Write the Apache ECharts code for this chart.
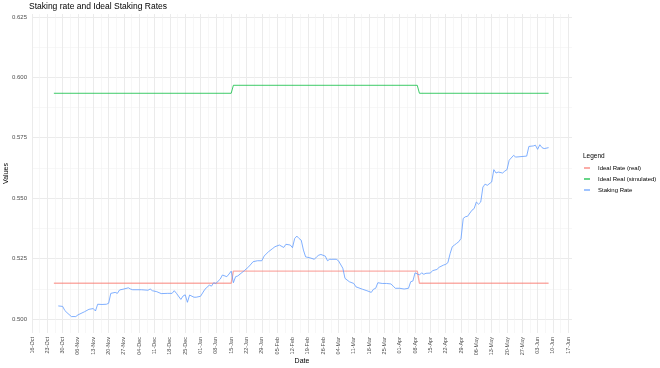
<!DOCTYPE html>
<html><head><meta charset="utf-8">
<script src="https://cdn.jsdelivr.net/npm/echarts@6/dist/echarts.min.js"></script>
<style>html,body{margin:0;padding:0;background:#fff}#c{width:660px;height:368px}</style>
</head><body><div id="c"></div>
<script>
// ---- data ----
const stakingDates = ['2023-10-28','2023-10-30','2023-10-31','2023-11-01','2023-11-03','2023-11-05','2023-11-06','2023-11-09','2023-11-11','2023-11-13','2023-11-14','2023-11-15','2023-11-17','2023-11-19','2023-11-20','2023-11-21','2023-11-23','2023-11-24','2023-11-25','2023-11-27','2023-11-29','2023-11-30','2023-12-01','2023-12-05','2023-12-08','2023-12-09','2023-12-10','2023-12-12','2023-12-14','2023-12-17','2023-12-19','2023-12-20','2023-12-21','2023-12-23','2023-12-24','2023-12-25','2023-12-26','2023-12-27','2023-12-29','2023-12-30','2024-01-01','2024-01-03','2024-01-05','2024-01-06','2024-01-07','2024-01-08','2024-01-10','2024-01-11','2024-01-13','2024-01-14','2024-01-15','2024-01-16','2024-01-17','2024-01-18','2024-01-21','2024-01-23','2024-01-25','2024-01-27','2024-01-29','2024-01-30','2024-02-01','2024-02-03','2024-02-04','2024-02-06','2024-02-08','2024-02-09','2024-02-11','2024-02-12','2024-02-13','2024-02-14','2024-02-15','2024-02-16','2024-02-17','2024-02-18','2024-02-20','2024-02-22','2024-02-23','2024-02-24','2024-02-25','2024-02-27','2024-02-28','2024-02-29','2024-03-03','2024-03-04','2024-03-06','2024-03-07','2024-03-09','2024-03-11','2024-03-12','2024-03-15','2024-03-17','2024-03-19','2024-03-20','2024-03-21','2024-03-22','2024-03-24','2024-03-26','2024-03-28','2024-03-29','2024-03-30','2024-04-01','2024-04-03','2024-04-05','2024-04-06','2024-04-07','2024-04-08','2024-04-10','2024-04-11','2024-04-12','2024-04-13','2024-04-15','2024-04-16','2024-04-18','2024-04-19','2024-04-21','2024-04-22','2024-04-23','2024-04-24','2024-04-25','2024-04-26','2024-04-27','2024-04-28','2024-04-29','2024-04-30','2024-05-01','2024-05-02','2024-05-04','2024-05-05','2024-05-06','2024-05-07','2024-05-08','2024-05-09','2024-05-10','2024-05-11','2024-05-13','2024-05-14','2024-05-15','2024-05-16','2024-05-18','2024-05-19','2024-05-20','2024-05-21','2024-05-23','2024-05-24','2024-05-29','2024-05-30','2024-06-01','2024-06-02','2024-06-03','2024-06-04','2024-06-05','2024-06-06','2024-06-08'];
const stakingValues = [0.5054,0.5052,0.5035,0.5026,0.5010,0.5010,0.5017,0.5030,0.5040,0.5043,0.5033,0.5061,0.5060,0.5061,0.5065,0.5106,0.5110,0.5106,0.5120,0.5124,0.5129,0.5124,0.5121,0.5121,0.5119,0.5124,0.5117,0.5113,0.5105,0.5106,0.5106,0.5117,0.5106,0.5081,0.5095,0.5100,0.5069,0.5099,0.5090,0.5090,0.5094,0.5123,0.5140,0.5136,0.5150,0.5147,0.5165,0.5182,0.5175,0.5186,0.5198,0.5150,0.5175,0.5178,0.5200,0.5216,0.5237,0.5241,0.5241,0.5260,0.5278,0.5292,0.5299,0.5306,0.5296,0.5309,0.5306,0.5295,0.5333,0.5343,0.5333,0.5326,0.5285,0.5257,0.5253,0.5247,0.5257,0.5264,0.5267,0.5260,0.5241,0.5247,0.5247,0.5241,0.5210,0.5168,0.5154,0.5147,0.5133,0.5123,0.5117,0.5110,0.5123,0.5127,0.5150,0.5147,0.5147,0.5145,0.5136,0.5127,0.5127,0.5124,0.5127,0.5154,0.5157,0.5191,0.5182,0.5191,0.5185,0.5189,0.5190,0.5200,0.5205,0.5214,0.5223,0.5226,0.5233,0.5270,0.5299,0.5306,0.5313,0.5320,0.5333,0.5416,0.5423,0.5425,0.5450,0.5457,0.5484,0.5475,0.5484,0.5546,0.5558,0.5553,0.5567,0.5618,0.5604,0.5608,0.5604,0.5612,0.5618,0.5657,0.5677,0.5670,0.5674,0.5714,0.5716,0.5719,0.5702,0.5721,0.5709,0.5705,0.5709];
const realDates = ['2023-10-26','2024-01-15','2024-01-16','2024-04-09','2024-04-10','2024-06-08'];
const realValues = [0.5148,0.5148,0.5198,0.5198,0.5148,0.5148];
const simDates = ['2023-10-26','2024-01-15','2024-01-16','2024-04-09','2024-04-10','2024-06-08'];
const simValues = [0.5934,0.5934,0.5967,0.5967,0.5934,0.5934];
const seriesNames = ['Ideal Rate (real)','Ideal Real (simulated)','Staking Rate'];
const axisStart = '2023-10-16';
const yTicks = [0.500,0.525,0.550,0.575,0.600,0.625];
const yMinorTicks = [0.5125,0.5375,0.5625,0.5875,0.6125];
const monthNames = ['Jan','Feb','Mar','Apr','May','Jun','Jul','Aug','Sep','Oct','Nov','Dec'];

// ---- helpers ----
const DAY = 86400000;
const base = Date.parse(axisStart + 'T00:00:00Z');
const toDay = s => (Date.parse(s + 'T00:00:00Z') - base) / DAY;
const pairs = (ds, vs) => ds.map((d, i) => [toDay(d), vs[i]]);
const fmtDay = d => {
  const dt = new Date(base + Math.round(d) * DAY);
  return String(dt.getUTCDate()).padStart(2, '0') + '-' + monthNames[dt.getUTCMonth()];
};

const chart = echarts.init(document.getElementById('c'), null, {renderer: 'canvas'});
const font = 'Liberation Sans, Arial, sans-serif';
const yMin = 0.4942, yMax = 0.6262;
chart.setOption({
  animation: false,
  backgroundColor: '#ffffff',
  title: [
    {text: 'Staking rate and Ideal Staking Rates', left: 29, top: 2, padding: 0,
     textStyle: {fontSize: 8.5, fontWeight: 'normal', color: '#000', fontFamily: font}},
    {text: 'Legend', left: 583, top: 153, padding: 0,
     textStyle: {fontSize: 6.5, fontWeight: 'normal', color: '#000', fontFamily: font}}
  ],
  legend: {
    orient: 'vertical', left: 584, top: 165, itemGap: 5, padding: 0,
    itemWidth: 6, itemHeight: 1.2, icon: 'rect',
    data: seriesNames,
    textStyle: {fontSize: 6, color: '#000', fontFamily: font, padding: [0, 0, 0, 3]}
  },
  grid: {left: 32, right: 88, top: 14, bottom: 35, containLabel: false, outerBoundsMode: 'none'},
  xAxis: {
    type: 'value', min: 0, max: 246.7, interval: 7,
    name: 'Date', nameLocation: 'middle', nameGap: 25, nameMoveOverlap: false,
    nameTextStyle: {fontSize: 7, color: '#000', fontFamily: font},
    axisLine: {show: false}, axisTick: {show: false},
    axisLabel: {rotate: 90, fontSize: 5.5, color: '#4d4d4d', fontFamily: font, margin: 4,
      showMaxLabel: false,
      formatter: v => (Math.abs(v / 7 - Math.round(v / 7)) < 1e-6 ? fmtDay(v) : '')},
    splitLine: {show: true, showMaxLine: false, lineStyle: {color: '#ebebeb', width: 1}},
    minorTick: {show: false, splitNumber: 2},
    minorSplitLine: {show: true, lineStyle: {color: '#f2f2f2', width: 0.6}}
  },
  yAxis: [{
    type: 'value', min: yMin, max: yMax,
    name: 'Values', nameLocation: 'middle', nameGap: 22, nameRotate: 90, nameMoveOverlap: false,
    nameTextStyle: {fontSize: 7, color: '#000', fontFamily: font},
    axisLine: {show: false}, axisTick: {show: false, customValues: yTicks},
    axisLabel: {fontSize: 6, color: '#4d4d4d', fontFamily: font, margin: 5,
      customValues: yTicks, formatter: v => v.toFixed(3)},
    splitLine: {show: true, lineStyle: {color: '#ebebeb', width: 1}}
  }, {
    type: 'value', min: yMin, max: yMax, position: 'left',
    axisLine: {show: false}, axisTick: {show: false, customValues: yMinorTicks},
    axisLabel: {show: false, customValues: yMinorTicks},
    splitLine: {show: true, lineStyle: {color: '#f2f2f2', width: 0.6}}
  }],
  series: [
    {name: seriesNames[0], type: 'line', data: pairs(realDates, realValues), showSymbol: false,
     lineStyle: {color: '#F8766D', width: 1.4, opacity: 0.6}, itemStyle: {color: '#F8766D'}},
    {name: seriesNames[1], type: 'line', data: pairs(simDates, simValues), showSymbol: false,
     lineStyle: {color: '#00BA38', width: 0.9, opacity: 0.85}, itemStyle: {color: '#00BA38'}},
    {name: seriesNames[2], type: 'line', data: pairs(stakingDates, stakingValues), showSymbol: false,
     lineStyle: {color: '#619CFF', width: 0.8}, itemStyle: {color: '#619CFF'}}
  ]
});
</script></body></html>
